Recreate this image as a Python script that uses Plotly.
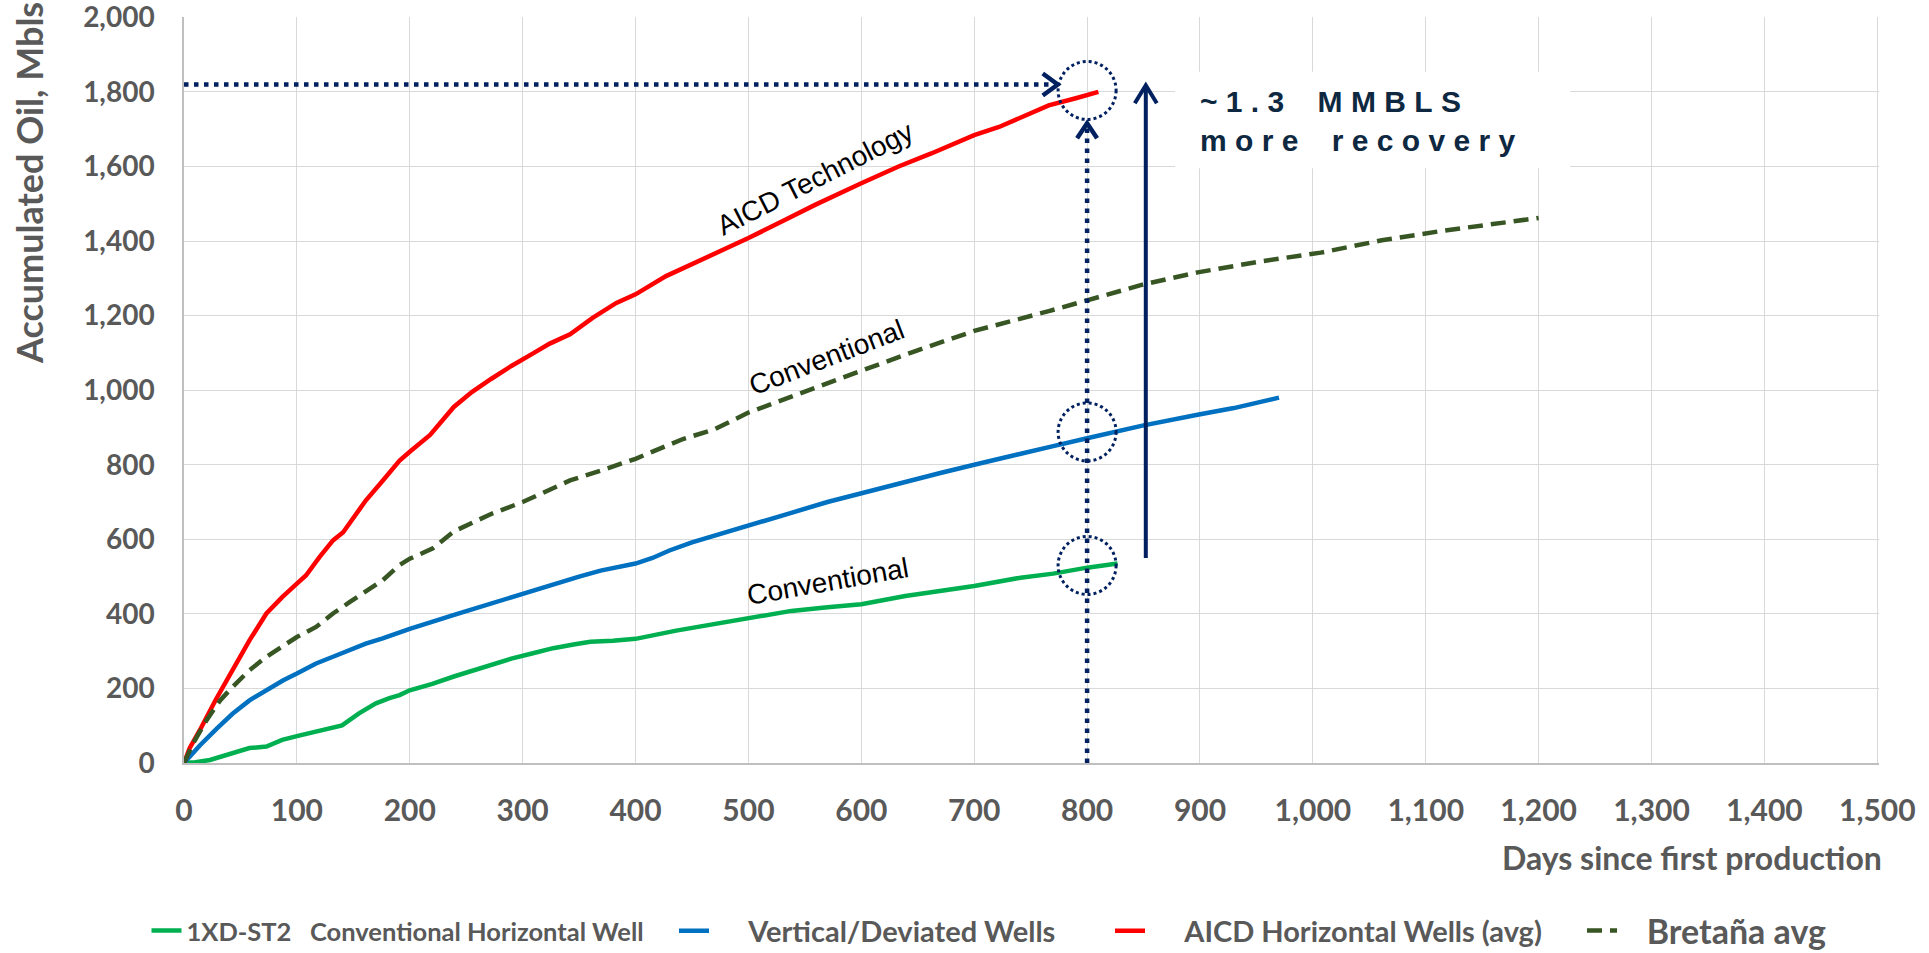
import plotly.graph_objects as go

# ---- data: cumulative oil (Mbls) vs days since first production ----
aicd_days = [0, 5, 14, 28, 43, 58, 73, 87, 100, 108, 120, 132, 141, 161, 176, 191,
             200, 218, 239, 255, 272, 290, 310, 324, 342, 362, 383, 400, 427, 456,
             486, 500, 530, 559, 600, 633, 662, 700, 722, 766, 790, 810]
aicd_oil = [0, 40, 88, 169, 249, 329, 401, 445, 481, 503, 552, 597, 619, 704, 757, 811,
            835, 880, 955, 995, 1030, 1065, 1100, 1125, 1150, 1194, 1234, 1257, 1306, 1346,
            1386, 1408, 1453, 1497, 1555, 1600, 1635, 1684, 1706, 1764, 1783, 1800]

conv_days = [0, 10, 23, 43, 58, 73, 87, 100, 117, 131, 140, 155, 170, 182, 191, 200,
             220, 239, 255, 272, 290, 310, 327, 345, 360, 380, 400, 436, 470, 500, 538,
             570, 600, 639, 670, 700, 741, 770, 800, 827]
conv_oil = [0, 2, 8, 27, 40, 44, 62, 72, 84, 94, 101, 133, 160, 174, 182, 195,
            212, 232, 248, 265, 280, 295, 308, 318, 325, 328, 333, 355, 372, 386, 408,
            418, 426, 448, 462, 475, 497, 508, 524, 535]

vert_days = [0, 14, 29, 43, 58, 73, 88, 100, 117, 132, 147, 161, 176, 191, 200, 240,
             272, 300, 326, 350, 369, 400, 415, 430, 450, 475, 500, 538, 570, 600, 639,
             670, 700, 741, 770, 800, 849, 899, 930, 970]
vert_oil = [0, 47, 92, 132, 168, 195, 222, 240, 267, 285, 304, 320, 334, 352, 360, 398,
            428, 455, 478, 500, 516, 535, 550, 570, 592, 614, 635, 671, 700, 724, 755,
            778, 800, 831, 850, 871, 905, 935, 952, 980]

bret_days = [0, 8, 20, 32, 43, 58, 73, 88, 100, 117, 132, 147, 161, 176, 191, 200,
             220, 239, 272, 300, 324, 342, 370, 400, 442, 470, 500, 545, 600, 648, 700,
             766, 800, 849, 898, 953, 1007, 1061, 1116, 1170, 1200]
bret_oil = [0, 52, 115, 168, 204, 249, 285, 316, 338, 365, 401, 432, 459, 490, 531, 548,
            575, 621, 668, 700, 733, 758, 785, 816, 869, 895, 940, 989, 1052, 1105, 1159,
            1212, 1240, 1283, 1316, 1345, 1369, 1402, 1428, 1451, 1462]

x_ticks = list(range(0, 1501, 100))
y_ticks = list(range(0, 2001, 200))

# comparison markers at day 800
mark_day = 800
aicd_level = 1820          # horizontal guide level
circle_levels = [1804, 888, 530]
gain_day = 852
gain_from, gain_to = 550, 1818

GREY = "#595959"
NAVY = "#002060"
TXT = "Lato"
ARIAL = "Liberation Sans, Arial"
NB = "\u00a0"

fig = go.Figure()

fig.add_trace(go.Scatter(x=conv_days, y=conv_oil, mode="lines",
                         name="1XD-ST2" + NB * 3 + "Conventional Horizontal Well",
                         line=dict(color="#00B050", width=4.5), legend="legend"))
fig.add_trace(go.Scatter(x=vert_days, y=vert_oil, mode="lines",
                         name=NB * 5 + "Vertical/Deviated Wells",
                         line=dict(color="#0070C0", width=4.5), legend="legend2"))
fig.add_trace(go.Scatter(x=aicd_days, y=aicd_oil, mode="lines",
                         name=NB * 5 + "AICD Horizontal Wells (avg)",
                         line=dict(color="#FF0000", width=4.5), legend="legend3"))
fig.add_trace(go.Scatter(x=bret_days, y=bret_oil, mode="lines",
                         name=NB * 3 + "Bretaña avg",
                         line=dict(color="#375623", width=4.5, dash="15px,8px"),
                         legend="legend4"))

shapes = []
dotted = dict(color=NAVY, width=4.5, dash="4.5px,5.5px")
# horizontal guide from the axis to the AICD end point
shapes.append(dict(type="line", xref="x", yref="y", x0=0, x1=mark_day - 27,
                   y0=aicd_level, y1=aicd_level, line=dotted))
shapes.append(dict(type="path", xref="x", yref="y", xsizemode="pixel", ysizemode="pixel",
                   xanchor=mark_day - 26, yanchor=aicd_level,
                   path="M -15,11 L 0,0 L -15,-11",
                   line=dict(color=NAVY, width=4.5)))
# vertical guide at day 800
shapes.append(dict(type="line", xref="x", yref="y", x0=mark_day, x1=mark_day,
                   y0=0, y1=1712, line=dotted))
shapes.append(dict(type="path", xref="x", yref="y", xsizemode="pixel", ysizemode="pixel",
                   xanchor=mark_day, yanchor=1716,
                   path="M -10,-15 L 0,0 L 10,-15",
                   line=dict(color=NAVY, width=4.5)))
# dotted circles
for lvl in circle_levels:
    shapes.append(dict(type="circle", xref="x", yref="y", xsizemode="pixel",
                       ysizemode="pixel", xanchor=mark_day, yanchor=lvl,
                       x0=-29, x1=29, y0=-29, y1=29,
                       line=dict(color=NAVY, width=3, dash="3px,3px")))
# solid gain arrow
shapes.append(dict(type="line", xref="x", yref="y", x0=gain_day, x1=gain_day,
                   y0=gain_from, y1=gain_to - 2, line=dict(color=NAVY, width=4)))
shapes.append(dict(type="path", xref="x", yref="y", xsizemode="pixel", ysizemode="pixel",
                   xanchor=gain_day, yanchor=gain_to,
                   path="M -11,-18 L 0,0 L 11,-18",
                   line=dict(color=NAVY, width=4)))
# white panel behind the callout text
shapes.append(dict(type="rect", xref="x", yref="y", x0=878, x1=1228, y0=1595, y1=1854,
                   fillcolor="white", line=dict(width=0), layer="above"))


def spaced(s):
    return NB.join(NB * 2 if c == " " else c for c in s)


annotations = [
    dict(text=spaced("~1.3 MMBLS") + "<br>" + spaced("more recovery"),
         x=898, y=1722, xref="x", yref="y", xanchor="left", yanchor="middle",
         align="left", showarrow=False,
         font=dict(family=ARIAL, size=30, color="#0E2841", weight="bold")),
    dict(text="AICD Technology", x=559, y=1569, xref="x", yref="y", showarrow=False,
         textangle=-27, font=dict(family=ARIAL, size=28, color="black")),
    dict(text="Conventional", x=569, y=1087, xref="x", yref="y", showarrow=False,
         textangle=-21, font=dict(family=ARIAL, size=28, color="black")),
    dict(text="Conventional", x=570, y=488, xref="x", yref="y", showarrow=False,
         textangle=-10, font=dict(family=ARIAL, size=28, color="black")),
    dict(text="Days since first production", xref="paper", yref="paper",
         x=1.003, y=-0.127, xanchor="right", yanchor="middle", showarrow=False,
         font=dict(family=TXT, size=32, color=GREY, weight="bold")),
    dict(text="Accumulated Oil, Mbls", xref="paper", yref="paper",
         x=-0.091, y=0.777, xanchor="center", yanchor="middle", showarrow=False,
         textangle=-90,
         font=dict(family=TXT, size=36, color=GREY, weight="bold")),
]

W, H = 1929, 953
leg_y = 1 - 931 / H
leg_common = dict(orientation="h", xref="container", yref="container",
                  yanchor="middle", y=leg_y, xanchor="left",
                  bgcolor="rgba(0,0,0,0)", borderwidth=0, itemwidth=30)

fig.update_layout(
    width=W, height=H,
    margin=dict(l=184, r=50, t=17, b=190, autoexpand=False),
    paper_bgcolor="white", plot_bgcolor="white",
    xaxis=dict(range=[0, 1501.5], tickvals=x_ticks, tickformat=",d",
               showgrid=True, gridcolor="#D9D9D9", gridwidth=1.3,
               showline=True, linecolor="#BFBFBF", linewidth=1.5, zeroline=False,
               ticks="", ticklabelstandoff=20, ticklabeloverflow="allow",
               tickfont=dict(family=TXT, size=30, color=GREY, weight="bold")),
    yaxis=dict(range=[0, 2001], tickvals=y_ticks, tickformat=",d",
               showgrid=True, gridcolor="#D9D9D9", gridwidth=1.3,
               showline=True, linecolor="#BFBFBF", linewidth=1.5, zeroline=False,
               ticks="", ticklabelstandoff=22, ticklabeloverflow="allow",
               tickfont=dict(family=TXT, size=28, color=GREY, weight="bold")),
    shapes=shapes,
    annotations=annotations,
    showlegend=True,
    legend=dict(leg_common, x=146.5 / W,
                font=dict(family=TXT, size=25.5, color=GREY, weight="bold")),
    legend2=dict(leg_common, x=674 / W,
                 font=dict(family=TXT, size=29, color=GREY, weight="bold")),
    legend3=dict(leg_common, x=1110 / W,
                 font=dict(family=TXT, size=29, color=GREY, weight="bold")),
    legend4=dict(leg_common, x=1582 / W,
                 font=dict(family=TXT, size=34, color=GREY, weight="bold")),
)

fig.write_html("out.html")
